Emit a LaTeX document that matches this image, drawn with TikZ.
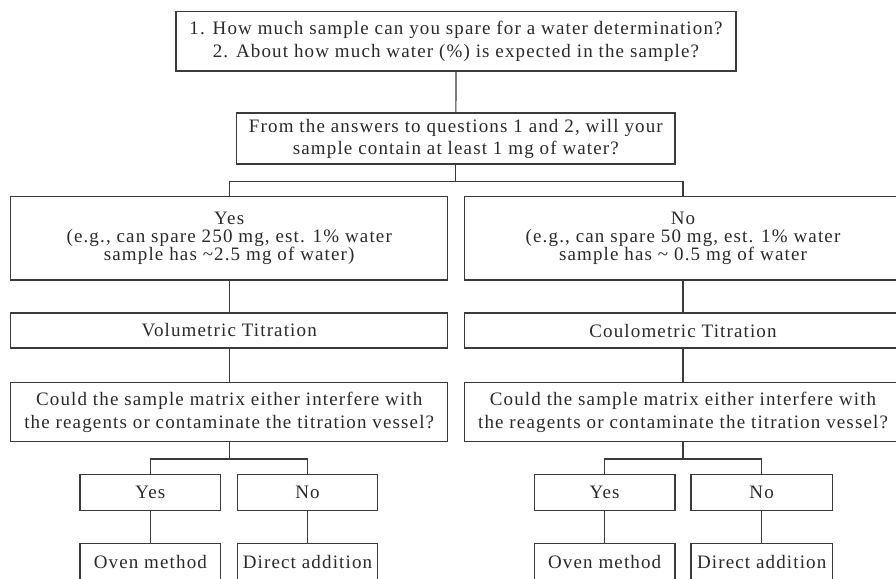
\documentclass[tikz,border=0pt]{standalone}
\usepackage{fontspec}
\setmainfont{Liberation Serif}[LetterSpace=6]
\definecolor{linec}{HTML}{3A3A3A}
\definecolor{textc}{HTML}{2A2A2A}
\begin{document}
\begin{tikzpicture}[x=1pt,y=-1pt,
  box/.style={draw=linec, line width=1.2pt, align=center, inner sep=0pt, text=textc,
    font=\fontsize{19}{23}\selectfont},
  conn/.style={draw=linec, line width=1.2pt}]
\clip (0,0) rectangle (896,578);
\fill[white] (0,0) rectangle (896,578);
% top
\node[box, minimum width=560pt, minimum height=59.3pt] (top) at (456,41.35)
  {1. How much sample can you spare for a water determination?\\
   2. About how much water (\%) is expected in the sample?};
\node[box, minimum width=438.3pt, minimum height=51pt] (q1) at (455.85,138.5)
  {From the answers to questions 1 and 2, will your\\[-1pt]
   sample contain at least 1 mg of water?};
% level 2
\node[box, minimum width=437pt, minimum height=83.3pt] (yesA) at (229.2,238.35)
  {Yes\\[-5pt] (e.g., can spare 250 mg, est. 1\% water\\[-5pt]
   sample has \textasciitilde2.5 mg of water)};
\node[box, minimum width=437.4pt, minimum height=83.3pt] (noA) at (683,238.35)
  {No\\[-5pt] (e.g., can spare 50 mg, est. 1\% water\\[-5pt]
   sample has \textasciitilde{} 0.5 mg of water};
% level 3
\node[box, minimum width=437pt, minimum height=35pt] (vol) at (229.2,330.5)
  {Volumetric Titration};
\node[box, minimum width=437.4pt, minimum height=35pt] (coul) at (683,330.5)
  {Coulometric Titration};
% level 4
\node[box, minimum width=437pt, minimum height=59.4pt] (qL) at (229.2,412)
  {Could the sample matrix either interfere with\\
   the reagents or contaminate the titration vessel?};
\node[box, minimum width=437.4pt, minimum height=59.4pt] (qR) at (683,412)
  {Could the sample matrix either interfere with\\
   the reagents or contaminate the titration vessel?};
% level 5
\node[box, minimum width=140.7pt, minimum height=36pt] (yesL) at (150.35,492.5) {Yes};
\node[box, minimum width=140.4pt, minimum height=36pt] (noL) at (307.5,492.5) {No};
\node[box, minimum width=140.7pt, minimum height=36pt] (yesR) at (604.65,492.5) {Yes};
\node[box, minimum width=141.3pt, minimum height=36pt] (noR) at (761.65,492.5) {No};
% level 6
\node[box, minimum width=140.7pt, minimum height=38pt] (ovenL) at (150.35,562.3) {Oven method};
\node[box, minimum width=140.4pt, minimum height=38pt] (dirL) at (307.5,562.3) {Direct addition};
\node[box, minimum width=140.7pt, minimum height=38pt] (ovenR) at (604.65,562.3) {Oven method};
\node[box, minimum width=141.3pt, minimum height=38pt] (dirR) at (761.65,562.3) {Direct addition};
% connectors
\draw[conn] (top.south) -- (q1.north);
\draw[conn] (q1.south) -- ++(0,16.7) -| (yesA.north);
\draw[conn] (q1.south) -- ++(0,16.7) -| (noA.north);
\draw[conn] (yesA.south) -- (vol.north);
\draw[conn] (noA.south) -- (coul.north);
\draw[conn] (vol.south) -- (qL.north);
\draw[conn] (coul.south) -- (qR.north);
\draw[conn] (qL.south) -- ++(0,16.6) -| (yesL.north);
\draw[conn] (qL.south) -- ++(0,16.6) -| (noL.north);
\draw[conn] (qR.south) -- ++(0,16.6) -| (yesR.north);
\draw[conn] (qR.south) -- ++(0,16.6) -| (noR.north);
\draw[conn] (yesL.south) -- (ovenL.north);
\draw[conn] (noL.south) -- (dirL.north);
\draw[conn] (yesR.south) -- (ovenR.north);
\draw[conn] (noR.south) -- (dirR.north);
\end{tikzpicture}
\end{document}
